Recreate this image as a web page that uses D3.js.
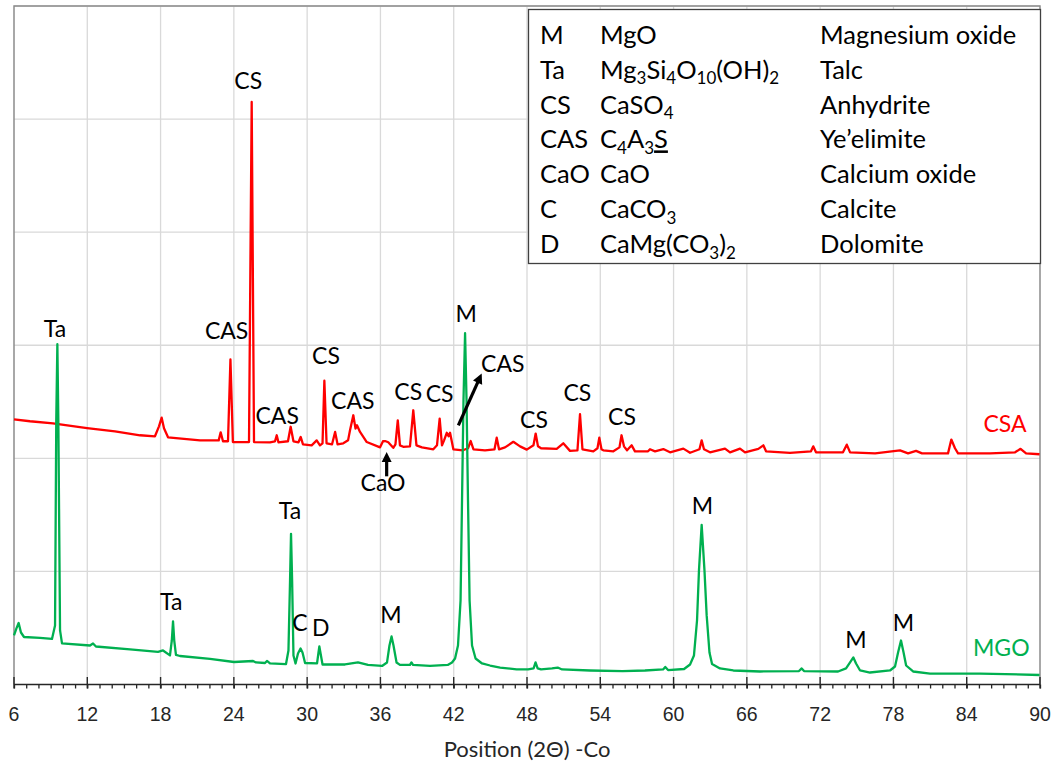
<!DOCTYPE html>
<html><head><meta charset="utf-8">
<script src="https://cdn.jsdelivr.net/npm/d3@7"></script>
<style>
body{margin:0;background:#fff}
svg{display:block;font-family:Lato,"Open Sans",sans-serif}
</style>
</head><body><svg id="c" width="1056" height="762"></svg>
<script>
// ---------- data ----------
const xTicks = [6,12,18,24,30,36,42,48,54,60,66,72,78,84,90];
const yGrid = [0,1000,2000,3000,4000,5000,6000];

// CSA pattern: [2θ, intensity]
const csaPattern = [
[6.00,2345],[7.31,2328],[9.19,2310],[11.98,2268],[14.27,2239],[16.32,2204],[17.54,2195],[17.87,2283],[18.09,2360],[18.28,2266],[18.61,2186],
[21.23,2159],[22.76,2159],[22.92,2230],[23.11,2151],[23.52,2151],[23.72,2874],[23.92,2144],[25.24,2144],[25.46,5151],[25.65,2144],
[26.96,2142],[27.37,2151],[27.51,2204],[27.65,2142],[28.43,2151],[28.65,2279],[28.88,2151],[29.29,2142],[29.47,2189],[29.66,2124],
[30.37,2115],[30.78,2159],[31.05,2115],[31.26,2133],[31.41,2686],[31.59,2133],[32.04,2124],[32.29,2233],[32.49,2124],[32.96,2133],
[33.35,2159],[33.51,2248],[33.78,2381],[33.96,2263],[34.08,2292],[34.33,2233],[34.88,2144],[35.97,2097],[36.21,2151],[36.38,2153],
[36.64,2142],[37.05,2093],[37.23,2124],[37.42,2336],[37.60,2115],[37.87,2102],[38.42,2106],[38.69,2425],[38.95,2115],[39.40,2097],
[40.33,2080],[40.63,2115],[40.85,2351],[41.04,2115],[41.21,2159],[41.43,2226],[41.58,2195],[41.70,2226],[41.97,2080],[42.76,2071],
[43.17,2089],[43.39,2153],[43.62,2080],[44.56,2071],[45.34,2080],[45.52,2182],[45.71,2080],[46.20,2097],[46.88,2146],[47.43,2106],
[47.98,2077],[48.53,2115],[48.71,2219],[48.90,2106],[49.15,2089],[50.43,2084],[50.97,2133],[51.52,2066],[52.13,2071],[52.34,2390],
[52.54,2080],[53.43,2062],[53.77,2089],[53.92,2183],[54.10,2080],[54.25,2071],[55.07,2062],[55.57,2097],[55.74,2204],[55.94,2106],
[56.19,2071],[56.57,2115],[56.84,2062],[57.91,2062],[58.07,2080],[58.48,2062],[59.16,2082],[59.71,2053],[60.80,2086],[61.35,2049],
[62.12,2080],[62.30,2159],[62.49,2080],[62.98,2053],[64.21,2086],[64.62,2053],[65.44,2086],[65.85,2053],[66.94,2084],[67.35,2115],
[67.57,2062],[69.53,2049],[71.25,2062],[71.44,2106],[71.66,2053],[73.87,2053],[74.18,2121],[74.45,2053],[76.50,2044],[78.54,2071],
[79.20,2044],[79.85,2066],[80.34,2044],[82.47,2044],[82.74,2166],[83.04,2089],[83.29,2044],[85.91,2044],[87.96,2053],[88.41,2084],
[88.86,2044],[89.96,2036]
];

// MGO pattern: [2θ, intensity]
const mgoPattern = [
[6.00,434],[6.20,496],[6.38,544],[6.57,460],[6.82,420],[8.13,412],[9.11,403],[9.36,522],[9.46,2336],[9.55,3009],[9.63,2336],[9.77,478],
[9.93,363],[12.22,345],[12.47,363],[12.71,336],[15.50,310],[17.79,288],[18.20,301],[18.77,257],[18.92,389],[19.02,558],[19.12,389],
[19.26,261],[19.59,252],[22.05,226],[24.01,199],[25.57,208],[25.81,195],[26.55,190],[26.71,208],[26.96,186],[28.27,181],[28.47,301],
[28.60,920],[28.68,1332],[28.77,920],[28.88,257],[29.05,186],[29.25,274],[29.46,319],[29.62,283],[29.83,190],[30.81,186],[30.93,283],
[31.00,336],[31.10,274],[31.26,177],[33.10,177],[34.16,195],[34.98,173],[36.13,164],[36.54,195],[36.74,345],[36.91,425],[37.07,345],
[37.32,195],[37.60,173],[38.42,173],[38.54,195],[38.67,173],[40.06,164],[41.51,173],[41.86,195],[42.11,230],[42.35,345],[42.56,743],
[42.68,1628],[42.80,2513],[42.93,3106],[43.05,2513],[43.17,1628],[43.30,743],[43.50,345],[43.79,230],[44.32,186],[44.98,168],
[45.80,150],[47.15,133],[48.09,133],[48.54,142],[48.70,195],[48.87,142],[49.15,133],[50.05,142],[50.51,150],[50.87,133],[53.16,124],
[55.83,119],[57.66,124],[59.14,133],[59.32,155],[59.55,128],[60.86,137],[61.35,177],[61.67,257],[61.92,566],[62.08,1009],[62.30,1412],
[62.53,1009],[62.71,611],[62.94,283],[63.15,181],[63.80,142],[64.89,124],[67.08,115],[70.27,119],[70.49,142],[70.68,119],[73.47,115],
[74.12,142],[74.45,195],[74.72,239],[74.94,186],[75.27,124],[76.08,106],[77.72,124],[78.13,159],[78.38,283],[78.62,389],[78.83,283],
[79.04,168],[79.61,115],[81.00,97],[85.09,97],[89.96,84]
];

// peak annotations: [text, 2θ, intensity (label centre)]
const peakLabels = [
["CS",25.18,5339],["Ta",9.36,3148],["CAS",23.41,3133],["CAS",27.55,2374],["CS",31.54,2905],["CAS",33.74,2506],
["CS",38.28,2590],["CS",40.85,2568],["M",43.02,3281],["CAS",46.02,2834],["CS",48.57,2343],["CS",52.12,2580],
["CS",55.78,2370],["CaO",36.21,1783],["M",62.37,1584],["M",74.92,394],["M",78.81,544],["Ta",28.60,1540],
["Ta",18.88,728],["C",29.42,549],["D",31.12,504],["M",36.85,621]
];
const seriesLabels = [["CSA",87.14,2303,"csa"],["MGO",86.83,323,"mgo"]];
// arrows: [2θ from, intensity from, 2θ to, intensity to]
const arrows = [[36.51,1841,36.51,2056],[42.38,2292,44.29,2750]];

// legend rows: [code, formula segments, name]
const legendRows = [
["M",[["MgO"]],"Magnesium oxide"],
["Ta",[["Mg"],["3","sub"],["Si"],["4","sub"],["O"],["10","sub"],["(OH)"],["2","sub"]],"Talc"],
["CS",[["CaSO"],["4","sub"]],"Anhydrite"],
["CAS",[["C"],["4","sub"],["A"],["3","sub"],["S","u"]],"Ye\u2019elimite"],
["CaO",[["CaO"]],"Calcium oxide"],
["C",[["CaCO"],["3","sub"]],"Calcite"],
["D",[["CaMg(CO"],["3","sub"],[")"],["2","sub"]],"Dolomite"]
];
const axisTitle = "Position (2\u0398) -Co";

// ---------- drawing ----------
const colors = {csa:"#ff0000", mgo:"#00b050"};
const svg = d3.select("#c");
const L=14, R=1040, T=6, B=684.5;
const x = d3.scaleLinear().domain([6,90]).range([L,R]);
const y = d3.scaleLinear().domain([0,6000]).range([B,T]);

// gridlines
svg.append("g").selectAll("line").data(yGrid.slice(1)).join("line")
  .attr("x1",L).attr("x2",R).attr("y1",d=>y(d)).attr("y2",d=>y(d))
  .attr("stroke","#d9d9d9").attr("stroke-width",1.3);
svg.append("g").selectAll("line").data(xTicks.slice(1,-1)).join("line")
  .attr("x1",d=>x(d)).attr("x2",d=>x(d)).attr("y1",T).attr("y2",B)
  .attr("stroke","#d9d9d9").attr("stroke-width",1.3);

// plot frame (left, top, right)
svg.append("path").attr("d",`M${L},${B}V${T}H${R}V${B}`)
  .attr("fill","none").attr("stroke","#8c8c8c").attr("stroke-width",1.5);

// series
const line = d3.line().x(d=>x(d[0])).y(d=>y(d[1]));
svg.append("path").datum(csaPattern).attr("d",line).attr("fill","none")
  .attr("stroke",colors.csa).attr("stroke-width",2.3).attr("stroke-linejoin","round");
svg.append("path").datum(mgoPattern).attr("d",line).attr("fill","none")
  .attr("stroke",colors.mgo).attr("stroke-width",2.3).attr("stroke-linejoin","round");

// x axis
const ax = svg.append("g").attr("transform",`translate(0,${B})`);
ax.call(d3.axisBottom(x).tickValues(d3.range(6,91,1)).tickSize(4).tickFormat(""));
ax.select(".domain").remove();
ax.selectAll(".tick line").attr("stroke","#262626").attr("stroke-width",1.3);
ax.append("line").attr("x1",L).attr("x2",R).attr("stroke","#262626").attr("stroke-width",1.6);
ax.selectAll(null).data(xTicks).join("line")
  .attr("x1",d=>x(d)).attr("x2",d=>x(d)).attr("y1",-7.5).attr("y2",4)
  .attr("stroke","#262626").attr("stroke-width",1.4);
ax.selectAll(null).data(xTicks).join("text")
  .attr("x",d=>x(d)).attr("y",36).attr("text-anchor","middle")
  .attr("font-size",19.5).attr("fill","#262626").text(d=>d);
svg.append("text").attr("x",(L+R)/2).attr("y",757).attr("text-anchor","middle")
  .attr("font-size",22).attr("fill","#262626").text(axisTitle);

// peak labels
svg.append("g").selectAll("text").data(peakLabels).join("text")
  .attr("x",d=>x(d[1])).attr("y",d=>y(d[2])+8.3).attr("text-anchor","middle")
  .attr("font-size",23).attr("fill","#000").text(d=>d[0]);
svg.append("g").selectAll("text").data(seriesLabels).join("text")
  .attr("x",d=>x(d[1])).attr("y",d=>y(d[2])+8.3).attr("text-anchor","middle")
  .attr("font-size",23).attr("fill",d=>colors[d[3]]).text(d=>d[0]);

// arrows
const ag = svg.append("g");
arrows.forEach(a=>{
  const x1=x(a[0]), y1=y(a[1]), x2=x(a[2]), y2=y(a[3]);
  const dx=x2-x1, dy=y2-y1, len=Math.hypot(dx,dy), ux=dx/len, uy=dy/len;
  const hl=10, hw=5;
  ag.append("line").attr("x1",x1).attr("y1",y1).attr("x2",x2-ux*(hl-2)).attr("y2",y2-uy*(hl-2))
    .attr("stroke","#000").attr("stroke-width",3.2);
  const bx=x2-ux*hl, by=y2-uy*hl;
  ag.append("path").attr("d",`M${x2},${y2}L${bx-uy*hw},${by+ux*hw}L${bx+uy*hw},${by-ux*hw}Z`).attr("fill","#000");
});

// legend
const lg = svg.append("g");
lg.append("rect").attr("x",528.5).attr("y",9.5).attr("width",512).attr("height",254)
  .attr("fill","#fff").attr("stroke","#404040").attr("stroke-width",1.3);
legendRows.forEach((r,i)=>{
  const cy = 34.5 + i*34.9, by = cy + 9.2;
  lg.append("text").attr("x",540).attr("y",by).attr("font-size",25.5).text(r[0]);
  const t = lg.append("text").attr("x",600).attr("y",by).attr("font-size",25.5);
  let shifted=false;
  r[1].forEach(s=>{
    const ts = t.append("tspan").text(s[0]);
    if(s[1]==="sub"){ ts.attr("font-size",17).attr("dy",shifted?0:5.5); shifted=true; }
    else { if(shifted){ ts.attr("dy",-5.5); shifted=false; } if(s[1]==="u") ts.attr("text-decoration","underline"); }
  });
  lg.append("text").attr("x",820).attr("y",by).attr("font-size",25.5).text(r[2]);
});
</script>
</body></html>
